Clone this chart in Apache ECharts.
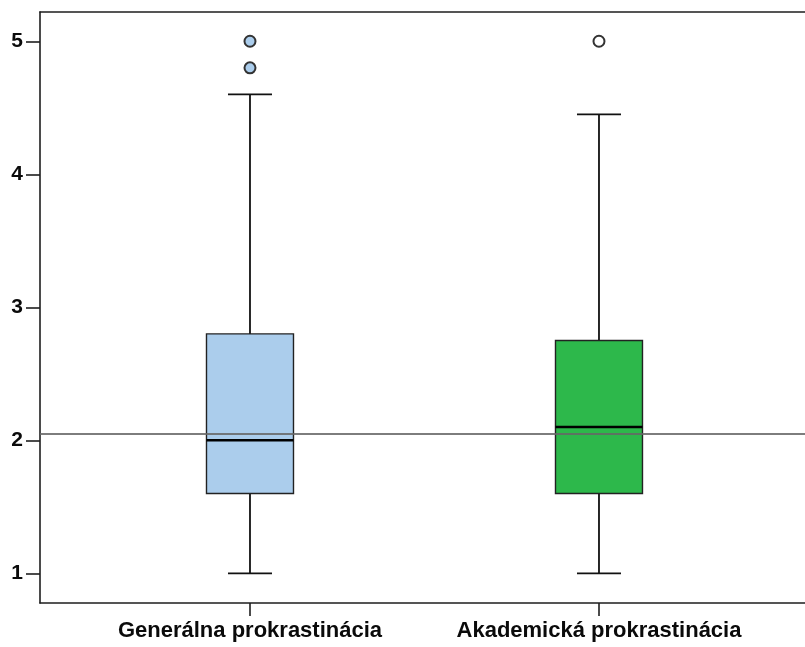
<!DOCTYPE html>
<html>
<head>
<meta charset="utf-8">
<script src="https://cdn.jsdelivr.net/npm/echarts@6/dist/echarts.min.js"></script>
<style>
  html, body { margin: 0; padding: 0; background: #fff; }
  #chart { width: 805px; height: 647px; }
</style>
</head>
<body>
<div id="chart"></div>
<script>
// Groups shown on the x axis
const categories = ['Generálna prokrastinácia', 'Akademická prokrastinácia'];
// Five-number summaries per group: [min, Q1, median, Q3, max]
const whiskerMin = [1.0, 1.0];
const quartile1 = [1.6, 1.6];
const medians = [2.0, 2.1];
const quartile3 = [2.8, 2.75];
const whiskerMax = [4.6, 4.45];
// Outliers per group
const outliersGeneral = [5.0, 4.8];
const outliersAcademic = [5.0];
// Overall reference level
const referenceLevel = 2.05;
// Y tick labels
const yTicks = [1, 2, 3, 4, 5];

const boxColors = ['#abcdec', '#2db84b'];
const outlierColors = ['#abcdec', '#ffffff'];

const boxData = categories.map((c, i) => [i + 1, whiskerMin[i], quartile1[i], medians[i], quartile3[i], whiskerMax[i]]);
const outlierData = [];
outliersGeneral.forEach(v => outlierData.push({ value: [1, v], itemStyle: { color: outlierColors[0] } }));
outliersAcademic.forEach(v => outlierData.push({ value: [2, v], itemStyle: { color: outlierColors[1] } }));

const FONT = '"Liberation Sans", Arial, sans-serif';
const AXIS_COLOR = '#1e1e1e';

function renderBox(params, api) {
  const x = api.value(0);
  const pMin = api.coord([x, api.value(1)]);
  const pQ1 = api.coord([x, api.value(2)]);
  const pMed = api.coord([x, api.value(3)]);
  const pQ3 = api.coord([x, api.value(4)]);
  const pMax = api.coord([x, api.value(5)]);
  const cx = pMed[0];
  const halfBox = 43.5;
  const halfCap = 22;
  const line = { stroke: '#111', lineWidth: 1.8 };
  return {
    type: 'group',
    children: [
      { type: 'line', shape: { x1: cx, y1: pQ3[1], x2: cx, y2: pMax[1] }, style: line },
      { type: 'line', shape: { x1: cx, y1: pQ1[1], x2: cx, y2: pMin[1] }, style: line },
      { type: 'line', shape: { x1: cx - halfCap, y1: pMax[1], x2: cx + halfCap, y2: pMax[1] }, style: line },
      { type: 'line', shape: { x1: cx - halfCap, y1: pMin[1], x2: cx + halfCap, y2: pMin[1] }, style: line },
      {
        type: 'rect',
        shape: { x: cx - halfBox, y: pQ3[1], width: halfBox * 2, height: pQ1[1] - pQ3[1] },
        style: { fill: boxColors[params.dataIndex], stroke: '#222', lineWidth: 1.4 }
      },
      { type: 'line', shape: { x1: cx - halfBox, y1: pMed[1], x2: cx + halfBox, y2: pMed[1] }, style: { stroke: '#000', lineWidth: 2.6 } }
    ]
  };
}

const chart = echarts.init(document.getElementById('chart'), null, { renderer: 'canvas' });
chart.setOption({
  animation: false,
  backgroundColor: '#fff',
  grid: { left: 40, right: 0, top: 12, bottom: 44, containLabel: false },
  xAxis: [
    {
      type: 'value',
      min: 0.3983,
      max: 2.5903,
      position: 'bottom',
      splitLine: { show: false },
      axisLine: { show: true, lineStyle: { color: AXIS_COLOR, width: 1.6 } },
      axisTick: { show: true, customValues: [1, 2], length: 13, lineStyle: { color: AXIS_COLOR, width: 1.6 } },
      axisLabel: {
        show: true,
        customValues: [1, 2],
        formatter: v => categories[Math.round(v) - 1] || '',
        margin: 17,
        fontFamily: FONT,
        fontWeight: 'bold',
        fontSize: 22,
        color: '#0a0a0a'
      }
    },
    {
      type: 'value',
      min: 0.3983,
      max: 2.5903,
      position: 'top',
      splitLine: { show: false },
      axisLine: { show: true, lineStyle: { color: AXIS_COLOR, width: 1.6 } },
      axisTick: { show: false },
      axisLabel: { show: false }
    }
  ],
  yAxis: {
    type: 'value',
    min: 0.777,
    max: 5.22,
    splitLine: { show: false },
    axisLine: { show: true, lineStyle: { color: AXIS_COLOR, width: 1.6 } },
    axisTick: { show: true, customValues: yTicks, length: 14, lineStyle: { color: AXIS_COLOR, width: 1.6 } },
    axisLabel: {
      show: true,
      customValues: yTicks,
      margin: 17,
      fontFamily: FONT,
      fontWeight: 'bold',
      fontSize: 21,
      color: '#0a0a0a'
    }
  },
  series: [
    {
      type: 'custom',
      name: 'box',
      xAxisIndex: 0,
      renderItem: renderBox,
      encode: { x: 0, y: [1, 2, 3, 4, 5] },
      data: boxData,
      z: 2
    },
    {
      type: 'scatter',
      name: 'outliers',
      xAxisIndex: 0,
      symbol: 'circle',
      symbolSize: 11,
      itemStyle: { borderColor: '#333', borderWidth: 2, opacity: 1 },
      data: outlierData,
      z: 3
    },
    {
      type: 'line',
      name: 'reference',
      xAxisIndex: 0,
      data: [],
      markLine: {
        silent: true,
        symbol: 'none',
        label: { show: false },
        lineStyle: { color: '#666', width: 2.2, type: 'solid', opacity: 0.85 },
        data: [{ yAxis: referenceLevel }]
      },
      z: 5
    }
  ]
});
</script>
</body>
</html>
